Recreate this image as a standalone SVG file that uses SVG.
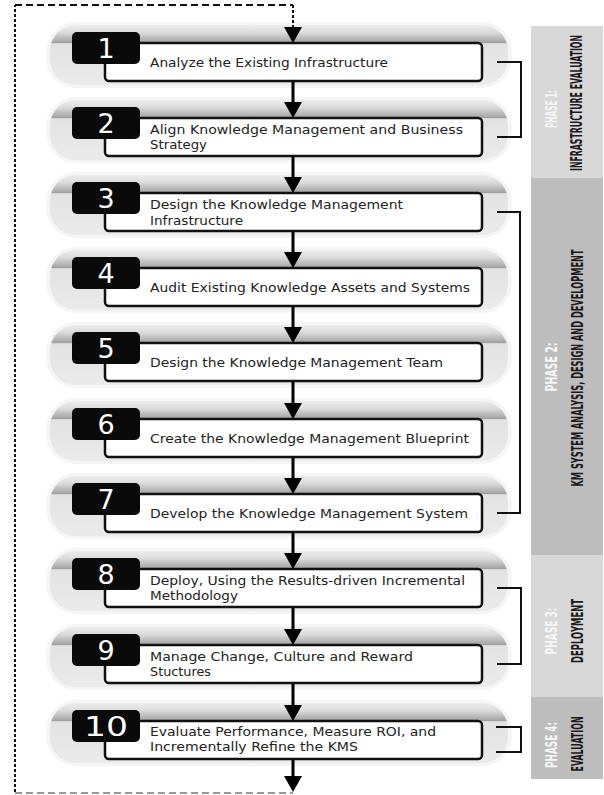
<svg xmlns="http://www.w3.org/2000/svg" width="604" height="795" viewBox="0 0 604 795">
<defs>
<linearGradient id="g" x1="0" y1="0" x2="0" y2="1">
<stop offset="0" stop-color="#ededed"/>
<stop offset="0.12" stop-color="#dcdcdc"/>
<stop offset="0.27" stop-color="#ababab"/>
<stop offset="0.3" stop-color="#9c9c9c"/>
<stop offset="0.31" stop-color="#e2e2e2"/>
<stop offset="1" stop-color="#ebebeb"/>
</linearGradient>
<marker id="ah" markerUnits="userSpaceOnUse" markerWidth="18" markerHeight="18" viewBox="0 0 16 18" refX="10" refY="9" orient="auto">
<path d="M0,0 L16,9 L0,18 Z" fill="#000"/>
</marker>
</defs>
<style>
.halo{fill:#f5f5f5}
.glow{fill:url(#g)}
.box{fill:#fff;stroke:#111;stroke-width:2.5}
.badge{fill:#0a0a0a}
.num{font-family:"DejaVu Sans",sans-serif;font-size:27px;fill:#fff;text-anchor:middle}
.lbl{font-family:"DejaVu Sans",sans-serif;font-size:12.5px;fill:#222}
.ph{font-family:"DejaVu Sans Condensed","DejaVu Sans",sans-serif;font-weight:bold;font-size:15.5px;fill:#f6f6f6;text-anchor:middle}
.pt{font-family:"DejaVu Sans Condensed","DejaVu Sans",sans-serif;font-weight:bold;font-size:15.5px;fill:#1a1a1a;text-anchor:middle}
.arr{stroke:#000;stroke-width:3;fill:none}
.brk{stroke:#111;stroke-width:2;fill:none}
.dsh{stroke:#111;stroke-width:2;fill:none}
</style>

<g id="phases">
<rect x="531" y="26" width="72" height="152" fill="#d8d8d8"/>
<rect x="531" y="178" width="72" height="377" fill="#bdbdbd"/>
<rect x="531" y="555" width="72" height="142" fill="#d8d8d8"/>
<rect x="531" y="697" width="72" height="82" fill="#bdbdbd"/>
<text class="ph" transform="translate(557,109) rotate(-90)" textLength="38" lengthAdjust="spacingAndGlyphs">PHASE 1:</text>
<text class="pt" transform="translate(582,103) rotate(-90) scale(0.56,1)" textLength="243" lengthAdjust="spacingAndGlyphs">INFRASTRUCTURE EVALUATION</text>
<text class="ph" transform="translate(557,367) rotate(-90)" textLength="49" lengthAdjust="spacingAndGlyphs">PHASE 2:</text>
<text class="pt" transform="translate(583,368) rotate(-90)" textLength="237" lengthAdjust="spacingAndGlyphs">KM SYSTEM ANALYSIS, DESIGN AND DEVELOPMENT</text>
<text class="ph" transform="translate(557,631) rotate(-90)" textLength="47" lengthAdjust="spacingAndGlyphs">PHASE 3:</text>
<text class="pt" transform="translate(583,631) rotate(-90)" textLength="64" lengthAdjust="spacingAndGlyphs">DEPLOYMENT</text>
<text class="ph" transform="translate(557,745) rotate(-90)" textLength="46" lengthAdjust="spacingAndGlyphs">PHASE 4:</text>
<text class="pt" transform="translate(583,744) rotate(-90)" textLength="55" lengthAdjust="spacingAndGlyphs">EVALUATION</text>
</g>

<g id="step1">
<rect class="halo" x="46" y="22" width="466" height="66" rx="30"/>
<rect class="glow" x="50" y="25" width="458" height="60" rx="26"/>
<rect class="box" x="105" y="43" width="377" height="38" rx="4"/>
<rect class="badge" x="72" y="32" width="68" height="32" rx="5"/>
<text class="num" x="106" y="58">1</text>
<text class="lbl" x="150" y="67" textLength="238" lengthAdjust="spacingAndGlyphs">Analyze the Existing Infrastructure</text>
</g>
<g id="step2">
<rect class="halo" x="46" y="97" width="466" height="66" rx="30"/>
<rect class="glow" x="50" y="100" width="458" height="60" rx="26"/>
<rect class="box" x="105" y="118" width="377" height="38" rx="4"/>
<rect class="badge" x="72" y="107" width="68" height="32" rx="5"/>
<text class="num" x="106" y="133">2</text>
<text class="lbl" x="150" y="134" textLength="313" lengthAdjust="spacingAndGlyphs">Align Knowledge Management and Business</text>
<text class="lbl" x="150" y="149" textLength="57" lengthAdjust="spacingAndGlyphs">Strategy</text>
</g>
<g id="step3">
<rect class="halo" x="46" y="172" width="466" height="66" rx="30"/>
<rect class="glow" x="50" y="175" width="458" height="60" rx="26"/>
<rect class="box" x="105" y="193" width="377" height="38" rx="4"/>
<rect class="badge" x="72" y="182" width="68" height="32" rx="5"/>
<text class="num" x="106" y="208">3</text>
<text class="lbl" x="150" y="209" textLength="253" lengthAdjust="spacingAndGlyphs">Design the Knowledge Management</text>
<text class="lbl" x="150" y="225" textLength="93" lengthAdjust="spacingAndGlyphs">Infrastructure</text>
</g>
<g id="step4">
<rect class="halo" x="46" y="247" width="466" height="66" rx="30"/>
<rect class="glow" x="50" y="250" width="458" height="60" rx="26"/>
<rect class="box" x="105" y="268" width="377" height="38" rx="4"/>
<rect class="badge" x="72" y="257" width="68" height="32" rx="5"/>
<text class="num" x="106" y="283">4</text>
<text class="lbl" x="150" y="292" textLength="320" lengthAdjust="spacingAndGlyphs">Audit Existing Knowledge Assets and Systems</text>
</g>
<g id="step5">
<rect class="halo" x="46" y="322" width="466" height="66" rx="30"/>
<rect class="glow" x="50" y="325" width="458" height="60" rx="26"/>
<rect class="box" x="105" y="343" width="377" height="38" rx="4"/>
<rect class="badge" x="72" y="332" width="68" height="32" rx="5"/>
<text class="num" x="106" y="358">5</text>
<text class="lbl" x="150" y="367" textLength="293" lengthAdjust="spacingAndGlyphs">Design the Knowledge Management Team</text>
</g>
<g id="step6">
<rect class="halo" x="46" y="398" width="466" height="66" rx="30"/>
<rect class="glow" x="50" y="401" width="458" height="60" rx="26"/>
<rect class="box" x="105" y="419" width="377" height="38" rx="4"/>
<rect class="badge" x="72" y="408" width="68" height="32" rx="5"/>
<text class="num" x="106" y="434">6</text>
<text class="lbl" x="150" y="443" textLength="319" lengthAdjust="spacingAndGlyphs">Create the Knowledge Management Blueprint</text>
</g>
<g id="step7">
<rect class="halo" x="46" y="473" width="466" height="66" rx="30"/>
<rect class="glow" x="50" y="476" width="458" height="60" rx="26"/>
<rect class="box" x="105" y="494" width="377" height="38" rx="4"/>
<rect class="badge" x="72" y="483" width="68" height="32" rx="5"/>
<text class="num" x="106" y="509">7</text>
<text class="lbl" x="150" y="518" textLength="318" lengthAdjust="spacingAndGlyphs">Develop the Knowledge Management System</text>
</g>
<g id="step8">
<rect class="halo" x="46" y="548" width="466" height="66" rx="30"/>
<rect class="glow" x="50" y="551" width="458" height="60" rx="26"/>
<rect class="box" x="105" y="569" width="377" height="38" rx="4"/>
<rect class="badge" x="72" y="558" width="68" height="32" rx="5"/>
<text class="num" x="106" y="584">8</text>
<text class="lbl" x="150" y="585" textLength="315" lengthAdjust="spacingAndGlyphs">Deploy, Using the Results-driven Incremental</text>
<text class="lbl" x="150" y="600" textLength="88" lengthAdjust="spacingAndGlyphs">Methodology</text>
</g>
<g id="step9">
<rect class="halo" x="46" y="624" width="466" height="66" rx="30"/>
<rect class="glow" x="50" y="627" width="458" height="60" rx="26"/>
<rect class="box" x="105" y="645" width="377" height="38" rx="4"/>
<rect class="badge" x="72" y="634" width="68" height="32" rx="5"/>
<text class="num" x="106" y="660">9</text>
<text class="lbl" x="150" y="661" textLength="263" lengthAdjust="spacingAndGlyphs">Manage Change, Culture and Reward</text>
<text class="lbl" x="150" y="676" textLength="61" lengthAdjust="spacingAndGlyphs">Stuctures</text>
</g>
<g id="step10">
<rect class="halo" x="46" y="700" width="466" height="66" rx="30"/>
<rect class="glow" x="50" y="703" width="458" height="60" rx="26"/>
<rect class="box" x="105" y="721" width="377" height="38" rx="4"/>
<rect class="badge" x="72" y="710" width="68" height="32" rx="5"/>
<text class="num" x="106" y="736" textLength="44" lengthAdjust="spacingAndGlyphs">10</text>
<text class="lbl" x="150" y="736" textLength="286" lengthAdjust="spacingAndGlyphs">Evaluate Performance, Measure ROI, and</text>
<text class="lbl" x="150" y="751" textLength="208" lengthAdjust="spacingAndGlyphs">Incrementally Refine the KMS</text>
</g>

<g id="connectors">
<path class="dsh" d="M15,792 V5" stroke-dasharray="3 2"/>
<path class="dsh" d="M15,5 H293" stroke-dasharray="7 4"/>
<path class="dsh" d="M293,5 V37" stroke-dasharray="3 2" marker-end="url(#ah)"/>
<path d="M15,793 H293" stroke="#999" stroke-width="2" stroke-dasharray="7 4" fill="none"/>
<line class="arr" x1="293" y1="82" x2="293" y2="112" marker-end="url(#ah)"/>
<line class="arr" x1="293" y1="157" x2="293" y2="187" marker-end="url(#ah)"/>
<line class="arr" x1="293" y1="232" x2="293" y2="262" marker-end="url(#ah)"/>
<line class="arr" x1="293" y1="307" x2="293" y2="337" marker-end="url(#ah)"/>
<line class="arr" x1="293" y1="382" x2="293" y2="413" marker-end="url(#ah)"/>
<line class="arr" x1="293" y1="458" x2="293" y2="488" marker-end="url(#ah)"/>
<line class="arr" x1="293" y1="533" x2="293" y2="563" marker-end="url(#ah)"/>
<line class="arr" x1="293" y1="608" x2="293" y2="639" marker-end="url(#ah)"/>
<line class="arr" x1="293" y1="684" x2="293" y2="715" marker-end="url(#ah)"/>
<line class="arr" x1="293" y1="760" x2="293" y2="786" marker-end="url(#ah)"/>
<path class="brk" d="M497,62 H521 V137 H497"/>
<path class="brk" d="M497,212 H520 V513 H497"/>
<path class="brk" d="M497,588 H521 V664 H497"/>
<path class="brk" d="M496,727 H521 V752 H496"/>
</g>
</svg>
